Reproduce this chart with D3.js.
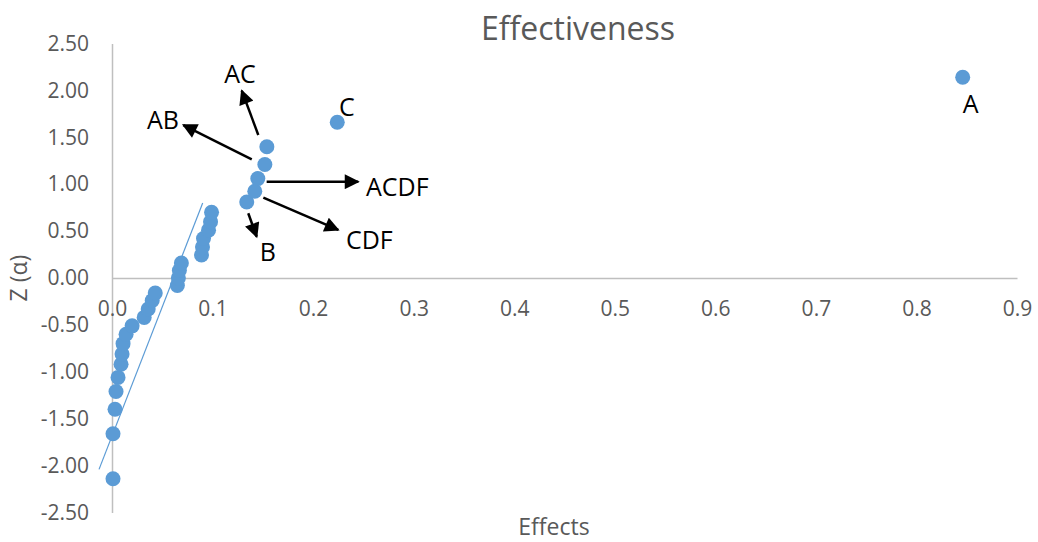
<!DOCTYPE html>
<html>
<head>
<meta charset="utf-8">
<script src="https://cdn.jsdelivr.net/npm/d3@7"></script>
<style>
  html, body { margin: 0; padding: 0; background: #ffffff; }
  svg { display: block; font-family: "Open Sans", "Noto Sans", sans-serif; }
</style>
</head>
<body>
<svg id="chart" width="1038" height="542"></svg>
<script>
// Estimated effects (absolute) and their normal scores Z(α)
const effects = [0.001, 0.001, 0.003, 0.004, 0.006, 0.009, 0.010, 0.011, 0.014, 0.020,
                 0.032, 0.036, 0.040, 0.043, 0.065, 0.066, 0.067, 0.069, 0.089, 0.090,
                 0.091, 0.096, 0.098, 0.099, 0.134, 0.142, 0.145, 0.152, 0.154, 0.224, 0.846];
const zScores = [-2.14, -1.66, -1.40, -1.21, -1.06, -0.92, -0.81, -0.70, -0.60, -0.51,
                 -0.42, -0.33, -0.24, -0.16, -0.08, 0.00, 0.08, 0.16, 0.245, 0.33,
                 0.42, 0.51, 0.60, 0.70, 0.81, 0.925, 1.06, 1.21, 1.40, 1.66, 2.14];

// Reference line through the bulk of small effects
const refLineX = [-0.0129, 0.0902];
const refLineY = [-2.04, 0.80];

// Axis ticks
const xTicks = [0, 0.1, 0.2, 0.3, 0.4, 0.5, 0.6, 0.7, 0.8, 0.9];
const yTicks = [-2.5, -2, -1.5, -1, -0.5, 0, 0.5, 1, 1.5, 2, 2.5];

// Labelled effects: text, label anchor (data units), optional arrow from -> to
const labelNames = ["AC", "AB", "ACDF", "CDF", "B", "C", "A"];
const labelX = [0.1273, 0.0507, 0.2526, 0.2327, 0.155, 0.2337, 0.854];
const labelY = [2.175, 1.684, 0.970, 0.405, 0.277, 1.823, 1.855];
const labelAnchor = ["middle", "middle", "start", "start", "middle", "middle", "middle"];
const arrowFromX = [0.1455, 0.139, 0.1538, 0.1505, 0.1355, null, null];
const arrowFromY = [1.525, 1.265, 1.027, 0.856, 0.690, null, null];
const arrowToX = [0.129, 0.0709, 0.2449, 0.225, 0.1439, null, null];
const arrowToY = [1.997, 1.631, 1.027, 0.512, 0.440, null, null];

const svg = d3.select("#chart");
const plotLeft = 112, plotRight = 1017, plotTop = 43.5, plotBottom = 512.5;

const x = d3.scaleLinear().domain([0, 0.9]).range([plotLeft, plotRight]);
const y = d3.scaleLinear().domain([-2.5, 2.5]).range([plotBottom, plotTop]);

const axisColor = "#bfbfbf";
const textColor = "#595959";
const pointColor = "#5b9bd5";
const tickFont = 21;
const axisTitleFont = 23;

// Plain hyphen for negative numbers
const fmt2 = v => d3.format(".2f")(v).replace("\u2212", "-");
const fmt1 = v => d3.format(".1f")(v).replace("\u2212", "-");

// Arrowhead marker
svg.append("defs").append("marker")
  .attr("id", "head")
  .attr("viewBox", "0 0 10 10")
  .attr("refX", 9).attr("refY", 5)
  .attr("markerUnits", "userSpaceOnUse")
  .attr("markerWidth", 16).attr("markerHeight", 15)
  .attr("orient", "auto")
  .append("path")
  .attr("d", "M0,0 L10,5 L0,10 Z")
  .attr("fill", "#000");

// Title
svg.append("text")
  .attr("x", 578).attr("y", 40)
  .attr("text-anchor", "middle")
  .attr("font-size", 32)
  .attr("fill", textColor)
  .text("Effectiveness");

// Y axis (line at x = 0, labels on the left)
const yAxis = d3.axisLeft(y).tickValues(yTicks).tickSize(0).tickPadding(23)
  .tickFormat(fmt2);
const gy = svg.append("g").attr("transform", `translate(${x(0)},0)`).call(yAxis);
gy.select(".domain").attr("stroke", axisColor).attr("stroke-width", 1.5);
gy.selectAll("text").attr("font-size", tickFont).attr("fill", textColor)
  .attr("font-family", "'Open Sans', sans-serif");

// X axis (line at y = 0, labels below)
const xAxis = d3.axisBottom(x).tickValues(xTicks).tickSize(0).tickPadding(23)
  .tickFormat(fmt1);
const gx = svg.append("g").attr("transform", `translate(0,${y(0)})`).call(xAxis);
gx.select(".domain").attr("stroke", axisColor).attr("stroke-width", 1.5);
gx.selectAll("text").attr("font-size", tickFont).attr("fill", textColor)
  .attr("font-family", "'Open Sans', sans-serif");

// Axis titles
svg.append("text")
  .attr("x", 554).attr("y", 535)
  .attr("text-anchor", "middle")
  .attr("font-size", axisTitleFont)
  .attr("fill", textColor)
  .text("Effects");
svg.append("text")
  .attr("transform", `translate(27,${y(0)}) rotate(-90)`)
  .attr("text-anchor", "middle")
  .attr("font-size", axisTitleFont)
  .attr("fill", textColor)
  .text("Z (α)");

// Reference line
svg.append("line")
  .attr("x1", x(refLineX[0])).attr("y1", y(refLineY[0]))
  .attr("x2", x(refLineX[1])).attr("y2", y(refLineY[1]))
  .attr("stroke", pointColor).attr("stroke-width", 1.2);

// Points
svg.append("g").selectAll("circle")
  .data(effects.map((e, i) => ({ e, z: zScores[i] })))
  .join("circle")
  .attr("cx", d => x(d.e))
  .attr("cy", d => y(d.z))
  .attr("r", 7.5)
  .attr("fill", pointColor);

// Annotation arrows and labels
const ann = svg.append("g");
labelNames.forEach((name, i) => {
  if (arrowFromX[i] !== null) {
    ann.append("line")
      .attr("x1", x(arrowFromX[i])).attr("y1", y(arrowFromY[i]))
      .attr("x2", x(arrowToX[i])).attr("y2", y(arrowToY[i]))
      .attr("stroke", "#000").attr("stroke-width", 2.5)
      .attr("marker-end", "url(#head)");
  }
  ann.append("text")
    .attr("x", x(labelX[i])).attr("y", y(labelY[i]))
    .attr("dy", "0.36em")
    .attr("text-anchor", labelAnchor[i])
    .attr("font-size", 25)
    .attr("fill", "#000")
    .text(name);
});
</script>
</body>
</html>
